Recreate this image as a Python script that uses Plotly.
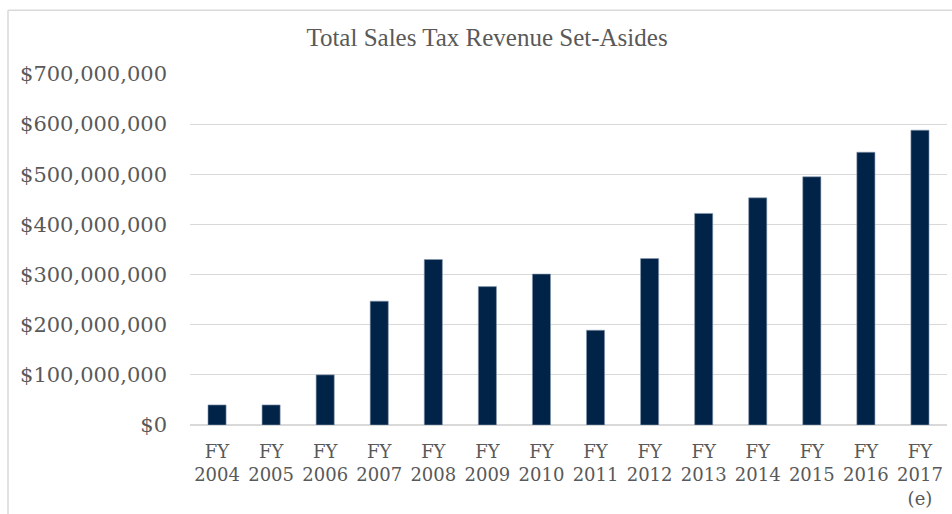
import plotly.graph_objects as go

categories = ["FY<br>2004", "FY<br>2005", "FY<br>2006", "FY<br>2007", "FY<br>2008",
              "FY<br>2009", "FY<br>2010", "FY<br>2011", "FY<br>2012", "FY<br>2013",
              "FY<br>2014", "FY<br>2015", "FY<br>2016", "FY<br>2017<br>(e)"]
revenue = [40e6, 40e6, 100e6, 247e6, 330e6, 276e6, 301e6, 189e6, 332e6, 422e6,
           453e6, 495e6, 544e6, 588e6]
y_ticks = [0, 100e6, 200e6, 300e6, 400e6, 500e6, 600e6, 700e6]
y_tick_labels = ["$0", "$100,000,000", "$200,000,000", "$300,000,000", "$400,000,000",
                 "$500,000,000", "$600,000,000", "$700,000,000"]

W, H = 952, 514
ml, mr, mt, mb = 190, 5, 74, 87
pw, ph = W - ml - mr, H - mt - mb

fig = go.Figure(go.Bar(
    x=categories, y=revenue,
    marker=dict(color="#022348", line=dict(color="#8a9bb0", width=0.6)),
    hoverinfo="x+y",
))

serif = "DejaVu Serif"
grey = "#595959"

# chart border (left and top edges visible)
bx = (8 - ml) / pw
by = (H - mb - 10) / ph
fig.add_shape(type="line", xref="paper", yref="paper", x0=bx, x1=bx, y0=by, y1=-1,
              line=dict(color="#d9d9d9", width=1.5))
fig.add_shape(type="line", xref="paper", yref="paper", x0=bx, x1=2, y0=by, y1=by,
              line=dict(color="#d9d9d9", width=1.5))

fig.update_layout(
    width=W, height=H,
    margin=dict(l=ml, r=mr, t=mt, b=mb),
    paper_bgcolor="white", plot_bgcolor="white",
    bargap=0.665,
    showlegend=False,
    title=dict(text="Total Sales Tax Revenue Set-Asides", x=(487 - ml) / pw, xref="paper",
               xanchor="center", y=1 - 37 / H, yanchor="middle",
               font=dict(family="Liberation Serif", size=25, color=grey)),
    xaxis=dict(showgrid=False, showline=False, zeroline=False, ticks="",
               ticklabelstandoff=14,
               tickfont=dict(family=serif, size=18, color=grey), tickangle=0,
               fixedrange=True),
    yaxis=dict(range=[0, 700e6], tickvals=y_ticks, ticktext=y_tick_labels,
               showgrid=True, gridcolor="#d9d9d9", gridwidth=1.4,
               zeroline=True, zerolinecolor="#d9d9d9", zerolinewidth=2,
               showline=False, ticks="", ticklabelstandoff=22,
               tickfont=dict(family=serif, size=21, color=grey), fixedrange=True),
)

fig.write_html("out.html")
